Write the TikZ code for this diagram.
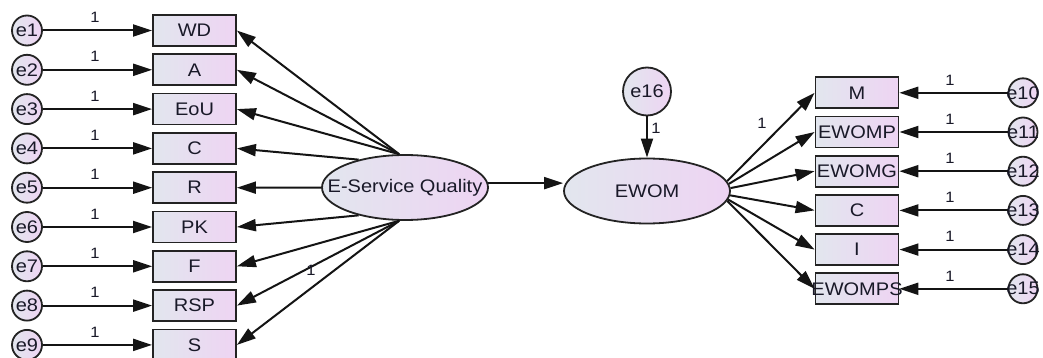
\documentclass[tikz,border=0pt]{standalone}
\usepackage{fontspec}
\setmainfont{Liberation Sans}[FakeStretch=1.1]
\usetikzlibrary{shapes.geometric,arrows.meta}
\definecolor{lc}{RGB}{226,230,238}
\definecolor{rc}{RGB}{238,212,243}
\definecolor{bd}{RGB}{35,35,35}
\definecolor{tx}{RGB}{25,25,40}
\begin{document}
\begin{tikzpicture}[x=1pt,y=-1pt,
  obs/.style={rectangle, draw=bd, line width=1.8pt, left color=lc, right color=rc,
    minimum width=83pt, minimum height=31pt, inner sep=0pt, text=tx,
    font=\fontsize{18.2}{20}\selectfont},
  lat/.style={ellipse, draw=bd, line width=1.8pt, left color=lc, right color=rc,
    minimum width=166pt, minimum height=65pt, inner sep=0pt, text=tx,
    font=\fontsize{18.2}{20}\selectfont},
  err/.style={circle, draw=bd, line width=1.8pt, left color=lc, right color=rc,
    minimum size=30pt, inner sep=0pt, text=tx, font=\fontsize{18.2}{20}\selectfont},
  arr/.style={-{Triangle[length=19pt,width=12pt]}, line width=2pt, draw=black!92},
  one/.style={font=\fontsize{15}{17}\selectfont, text=tx, inner sep=0pt}]
\fill[white] (0,0) rectangle (1043,358);
\useasboundingbox (0,0) rectangle (1043,358);
\clip (0,0) rectangle (1043,358);
% left indicators
\foreach \i/\t/\n [count=\k from 0] in {1/WD/wd,2/A/a,3/EoU/eou,4/C/c,5/R/r,6/PK/pk,7/F/f,8/RSP/rsp,9/S/s}{
  \node[obs] (\n) at (194.5,30.5+39.3*\k) {\t};
  \node[err] (e\i) at (27,30.5+39.3*\k) {\makebox[0pt]{e\i}};
  \draw[arr] (e\i) -- (\n);
  \node[one] at (95,17.5+39.3*\k) {1};
}
\node[lat] (esq) at (405,187.5) {\makebox[0pt]{E-Service Quality}};
\draw[arr] (esq.100) -- (wd.east);
\draw[arr] (esq.100) -- (a.east);
\draw[arr] (esq.100) -- (eou.east);
\draw[arr] (esq.149) -- (c.east);
\draw[arr] (esq.west) -- (r.east);
\draw[arr] (esq.211) -- (pk.east);
\draw[arr] (esq.-100) -- (f.east);
\draw[arr] (esq.-100) -- (rsp.east);
\draw[arr] (esq.-100) -- (s.east);
\node[one] at (311,270) {1};
% EWOM
\node[lat] (ewom) at (647,191) {\makebox[0pt]{EWOM}};
\draw[arr] (esq.3) -- (esq.3 -| ewom.west);
\node[err, minimum size=48pt] (e16) at (647,91.5) {\makebox[0pt]{e16}};
\draw[arr] (e16) -- (ewom);
\node[one] at (656,128) {1};
% right indicators
\foreach \i/\t/\n/\ang [count=\k from 0] in {10/M/m/7,11/EWOMP/ewomp/5,12/EWOMG/ewomg/2,13/C/cc/-3,14/I/ii/-6,15/EWOMPS/ewomps/-7}{
  \node[obs] (\n) at (857,92.8+39.2*\k) {\makebox[0pt]{\t}};
  \node[err, minimum size=29pt] (e\i) at (1023,92.8+39.2*\k) {\makebox[0pt]{e\i}};
  \draw[arr] (e\i) -- (\n);
  \node[one] at (950,80+39.2*\k) {1};
  \draw[arr] (ewom.\ang) -- (\n.west);
}
\node[one] at (762,123) {1};
\end{tikzpicture}
\end{document}
